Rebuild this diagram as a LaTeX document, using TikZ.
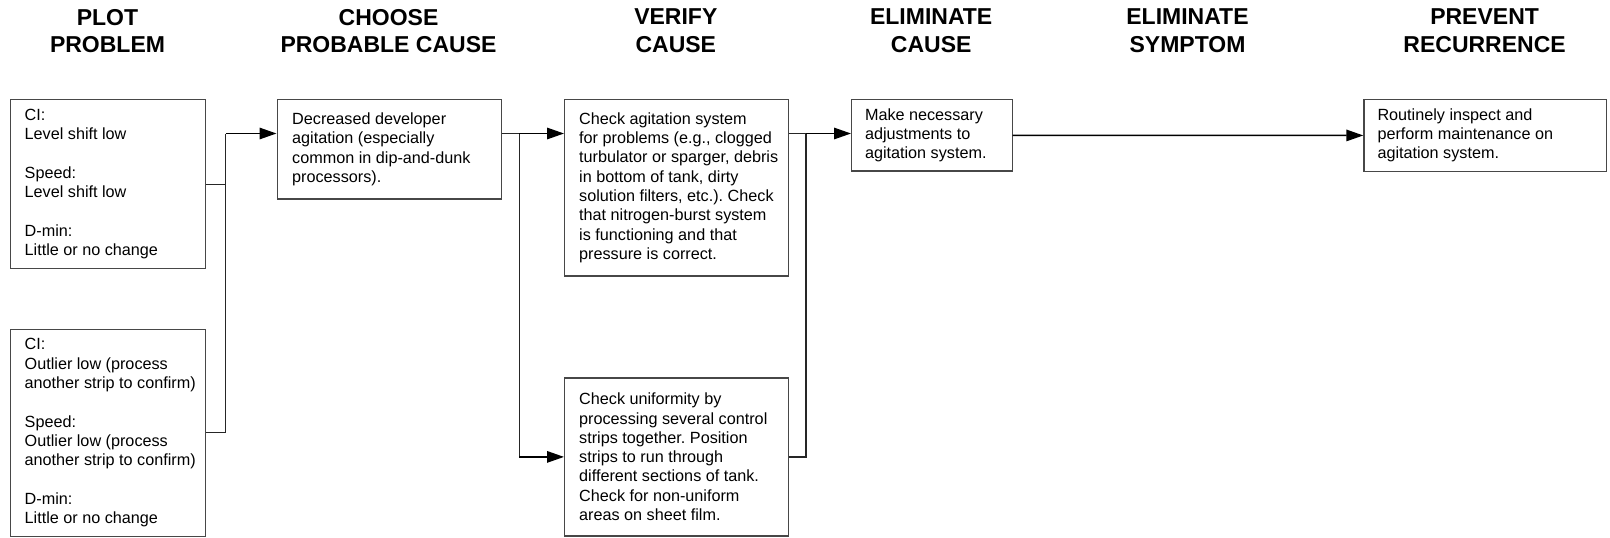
\documentclass[tikz,border=0pt]{standalone}
\usepackage{fontspec}
\setmainfont{Liberation Sans}
\usetikzlibrary{arrows.meta}
\frenchspacing
\begin{document}
\begin{tikzpicture}[x=1pt,y=-1pt,
  frame/.style={draw=black!72, line width=1.2pt, inner sep=0pt, anchor=north west},
  body/.style={anchor=west, align=left, inner sep=0pt,
    font=\fontsize{16.2pt}{19.3pt}\selectfont},
  heading/.style={align=center, inner sep=0pt,
    font=\fontsize{23pt}{27.7pt}\selectfont\bfseries},
  link/.style={draw=black!85, line width=1.2pt},
  flow/.style={draw=black, line width=1.5pt,
    -{Triangle[length=17pt,width=11.5pt]}}]
\useasboundingbox (0,0) rectangle (1610,538);

% column headings
\node[heading] (h1) at (107.5,31) {PLOT\\PROBLEM};
\node[heading] (h2) at (388.5,31) {CHOOSE\\PROBABLE CAUSE};
\node[heading] (h3) at (675.8,31) {VERIFY\\CAUSE};
\node[heading] (h4) at (931.2,31) {ELIMINATE\\CAUSE};
\node[heading] (h5) at (1187.5,31) {ELIMINATE\\SYMPTOM};
\node[heading] (h6) at (1484.6,31) {PREVENT\\RECURRENCE};

% boxes
\node[frame, minimum width=195pt, minimum height=169pt] (b1) at (10,99) {};
\node[frame, minimum width=195pt, minimum height=206.5pt] (b3) at (10,329) {};
\node[frame, minimum width=224pt, minimum height=99.3pt] (b2) at (276.5,99) {};
\node[frame, minimum width=223.7pt, minimum height=176.3pt] (b4) at (564,99) {};
\node[frame, minimum width=223.7pt, minimum height=158pt] (b5) at (564,377.3) {};
\node[frame, minimum width=160.5pt, minimum height=71.3pt] (b6) at (851,99) {};
\node[frame, minimum width=242.7pt, minimum height=71.7pt] (b7) at (1363.3,99) {};

% box texts
\node[body] (t1) at ([xshift=14.5pt]b1.west) {CI:\\Level shift low\\[19.3pt]Speed:\\Level shift low\\[19.3pt]D-min:\\Little or no change};
\node[body] (t3) at ([xshift=14.5pt]b3.west) {CI:\\Outlier low (process\\another strip to confirm)\\[19.3pt]Speed:\\Outlier low (process\\another strip to confirm)\\[19.3pt]D-min:\\Little or no change};
\node[body] (t2) at ([xshift=15.5pt]b2.west) {Decreased developer\\agitation (especially\\common in dip-and-dunk\\processors).};
\node[body] (t4) at ([xshift=15pt]b4.west) {Check agitation system\\for problems (e.g., clogged\\turbulator or sparger, debris\\in bottom of tank, dirty\\solution filters, etc.). Check\\that nitrogen-burst system\\is functioning and that\\pressure is correct.};
\node[body] (t5) at ([xshift=15pt]b5.west) {Check uniformity by\\processing several control\\strips together. Position\\strips to run through\\different sections of tank.\\Check for non-uniform\\areas on sheet film.};
\node[body] (t6) at ([xshift=13.8pt]b6.west) {Make necessary\\adjustments to\\agitation system.};
\node[body] (t7) at ([xshift=14pt]b7.west) {Routinely inspect and\\perform maintenance on\\agitation system.};

% junction points
\coordinate (j1) at (225.7,133.5);
\coordinate (j2) at (519.3,133.5);
\coordinate (j3) at (806,133.5);

% plot problem -> probable cause
\draw[link] (b1.east) -| (j1);
\draw[link] (b3.east) -| (j1);
\draw[flow] (j1) -- (j1 -| b2.west);

% probable cause -> verification checks
\draw[link] (j2 -| b2.east) -- (j2) -- (j2 |- b5.west);
\draw[flow] (j2) -- (j2 -| b4.west);
\draw[flow] (j2 |- b5.west) -- (b5.west);

% verification -> eliminate cause
\draw[link] (j3 -| b4.east) -- (j3);
\draw[link] (b5.east) -| (j3);
\draw[flow] (j3) -- (j3 -| b6.west);

% eliminate cause -> prevent recurrence
\draw[flow] (b6.east) -- (b7.west);
\end{tikzpicture}
\end{document}
